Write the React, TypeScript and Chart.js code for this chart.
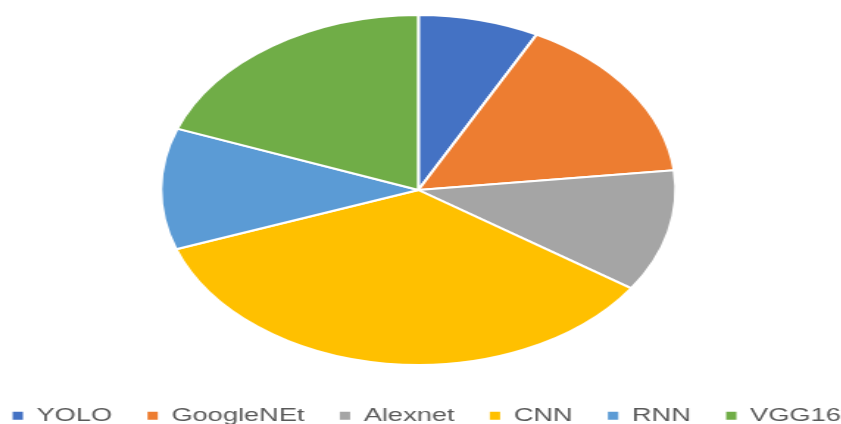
import React, { useEffect, useRef } from "react";
import { Chart, registerables } from "chart.js";

Chart.register(...registerables);

const categories: string[] = ["YOLO", "GoogleNEt", "Alexnet", "CNN", "RNN", "VGG16"];
const shares: number[] = [7.6, 15.6, 11.3, 35.0, 11.2, 19.3];
const sliceColors: string[] = ["#4472C4", "#ED7D31", "#A5A5A5", "#FFC000", "#5B9BD5", "#70AD47"];

const STRETCH = 1.471;
const CANVAS_W = 640;
const CANVAS_H = 435;
const SHIFT_X = -43.8;
const PIE_DX = -5.7;
const PIE_DY = -1.25;

const pieShift = {
  id: "pieShift",
  beforeDatasetsDraw(chart: any) {
    chart.ctx.save();
    chart.ctx.translate(PIE_DX, PIE_DY);
  },
  afterDatasetsDraw(chart: any) {
    chart.ctx.restore();
  },
};

export default function App() {
  const canvasRef = useRef<HTMLCanvasElement | null>(null);

  useEffect(() => {
    document.body.style.margin = "0";
    document.body.style.overflow = "hidden";
    const canvas = canvasRef.current;
    if (!canvas) return;
    const defaultGen = (Chart as any).overrides.pie.plugins.legend.labels.generateLabels;
    const chart = new Chart(canvas, {
      type: "pie",
      data: {
        labels: categories,
        datasets: [
          {
            data: shares,
            backgroundColor: sliceColors,
            borderColor: "#ffffff",
            borderWidth: 2,
            radius: 175,
            clip: false as any,
          },
        ],
      },
      options: {
        responsive: false,
        animation: false,
        layout: { padding: 0 },
        plugins: {
          tooltip: { enabled: false },
          legend: {
            position: "bottom",
            labels: {
              boxWidth: 7,
              boxHeight: 8,
              padding: 24,
              color: "#595959",
              font: { family: "'Liberation Sans', Arial, sans-serif", size: 18.5 },
              generateLabels: (c: any) =>
                defaultGen(c).map((it: any) => ({ ...it, lineWidth: 0 })),
            },
          },
        },
      },
      plugins: [pieShift],
    });
    return () => chart.destroy();
  }, []);

  return (
    <div
      style={{
        position: "absolute",
        left: SHIFT_X,
        top: 0,
        width: CANVAS_W,
        height: CANVAS_H,
        transform: `scaleX(${STRETCH})`,
        transformOrigin: "0 0",
      }}
    >
      <canvas ref={canvasRef} width={CANVAS_W} height={CANVAS_H} style={{ display: "block" }} />
    </div>
  );
}
